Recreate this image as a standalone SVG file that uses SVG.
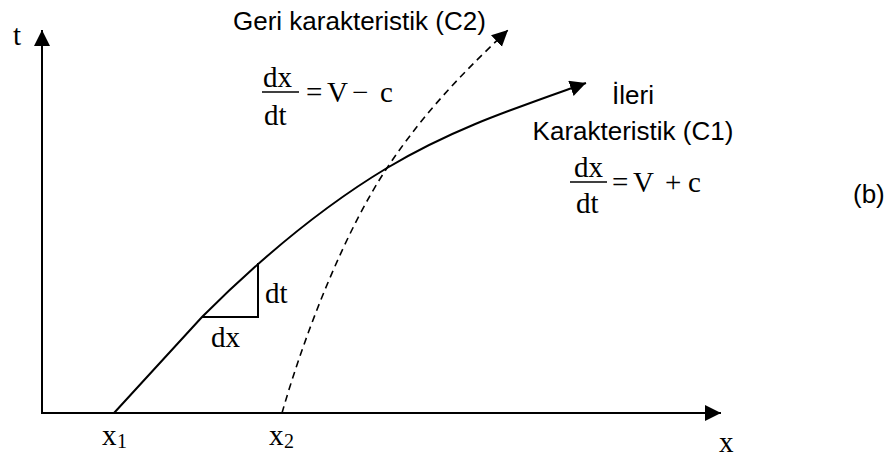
<svg xmlns="http://www.w3.org/2000/svg" width="894" height="459" viewBox="0 0 894 459">
<style>
.ln{fill:none;stroke:#000;stroke-width:2}
.dash{fill:none;stroke:#000;stroke-width:1.6;stroke-dasharray:7 5}
.sans{font-family:"Liberation Sans",Arial,sans-serif;font-size:26px;fill:#000}
.serif{font-family:"Liberation Serif","Times New Roman",serif;font-size:29px;fill:#000}
.sub{font-size:20px}
.frac{stroke:#000;stroke-width:1.5}
</style>
<defs>
<marker id="ah" markerUnits="userSpaceOnUse" markerWidth="20" markerHeight="20" refX="16" refY="8" orient="auto">
<path d="M0,0 L16,8 L0,16 z" fill="#000"/>
</marker>
</defs>
<rect width="894" height="459" fill="#fff"/>
<g id="axes">
<path class="ln" d="M42,413 L42,30" marker-end="url(#ah)"/>
<path class="ln" d="M41,413 L721,413" marker-end="url(#ah)"/>
<text class="serif" x="13" y="45">t</text>
<text class="serif" x="719" y="452">x</text>
<text class="serif" x="102" y="445">x<tspan class="sub" x="117" y="448">1</tspan></text>
<text class="serif" x="269" y="445">x<tspan class="sub" x="284" y="448">2</tspan></text>
</g>
<g id="connectors">
<path id="c1" class="ln" d="M114,413 L202,317 C262,257 327,204 387,168 C452,129 513,109 586,83" marker-end="url(#ah)"/>
<path id="c2" class="dash" d="M282,413 C307,326 347,228 387,168 C427,108 469,67 508,30" marker-end="url(#ah)"/>
</g>
<g id="triangle">
<path class="ln" d="M202,317 L258,317 L258,263" stroke-width="1.8"/>
<text class="serif" x="265" y="303">dt</text>
<text class="serif" x="211" y="347">dx</text>
</g>
<g id="label-c2">
<text class="sans" x="233" y="30">Geri karakteristik (C2)</text>
<text class="serif" x="263" y="87">dx</text>
<line class="frac" x1="262" y1="92" x2="299" y2="92"/>
<text class="serif" x="264" y="125">dt</text>
<text class="serif" y="102"><tspan x="306">=</tspan><tspan x="327">V</tspan><tspan x="352">−</tspan><tspan x="380">c</tspan></text>
</g>
<g id="label-c1">
<text class="sans" x="633" y="104" text-anchor="middle">İleri</text>
<text class="sans" x="633" y="140" text-anchor="middle">Karakteristik (C1)</text>
<text class="serif" x="574" y="177">dx</text>
<line class="frac" x1="570" y1="182" x2="607" y2="182"/>
<text class="serif" x="576" y="213">dt</text>
<text class="serif" y="192"><tspan x="612">=</tspan><tspan x="633">V</tspan><tspan x="665">+</tspan><tspan x="688">c</tspan></text>
</g>
<g id="label-b">
<text class="sans" x="853" y="203">(b)</text>
</g>
</svg>
